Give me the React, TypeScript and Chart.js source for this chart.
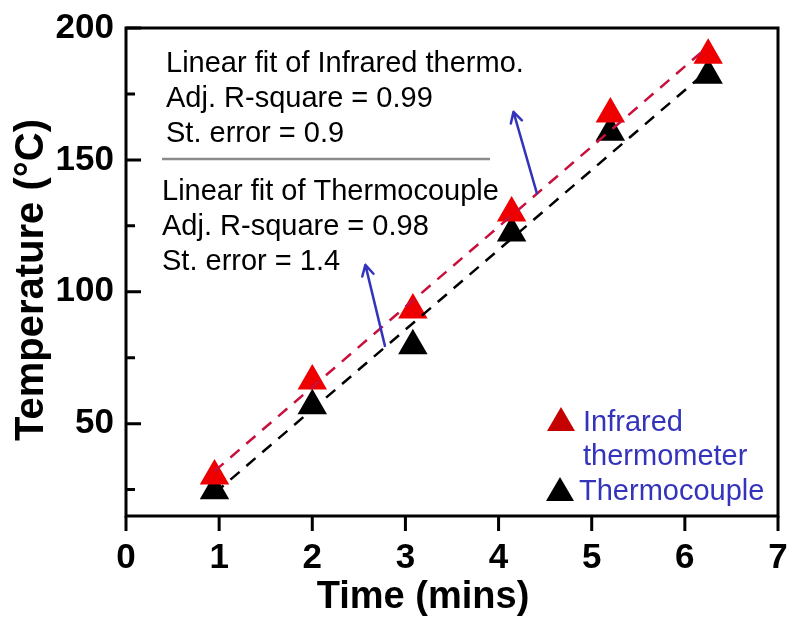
import React, { useEffect, useRef } from 'react';
import { Chart, registerables } from 'chart.js';

Chart.register(...registerables);

// ---- data ----
const timeMins = [0.95, 2.0, 3.08, 4.14, 5.2, 6.25];
const infraredTemp = [30.2, 66.2, 93.1, 129.9, 167.4, 189.7];
const thermocoupleTemp = [24.6, 56.8, 79.5, 122.3, 160.5, 182.1];
const fitX = [0.95, 6.25];
const infraredFit = [32, 193];
const thermocoupleFit = [23.6, 184];
const xTicks = [0, 1, 2, 3, 4, 5, 6, 7];
const yMajorTicks = [50, 100, 150, 200];
const yMinorTicks = [25, 75, 125, 175];
const infraredNote = ['Linear fit of Infrared thermo.', 'Adj. R-square = 0.99', 'St. error = 0.9'];
const thermoNote = ['Linear fit of Thermocouple', 'Adj. R-square = 0.98', 'St. error = 1.4'];
// arrows in data units: [fromX, fromY, toX, toY]
const arrowInfrared = [4.41, 137.5, 4.16, 168.2];
const arrowThermo = [2.78, 79.5, 2.57, 110.2];
const legendLabels = [['Infrared', 'thermometer'], ['Thermocouple']];

const FONT = '"Liberation Sans", Arial, Helvetica, sans-serif';
const RED_PT = '#ee0000';
const RED_LEGEND = '#c40000';
const RED_LINE = '#c8103c';
const BLUE = '#3333bb';

const decorPlugin = {
  id: 'decor',
  afterDraw(chart: any) {
    const ctx = chart.ctx;
    const { left, right, top, bottom } = chart.chartArea;
    const xs = chart.scales.x;
    const ys = chart.scales.y;
    ctx.save();
    // frame & axes
    ctx.strokeStyle = '#000';
    ctx.lineWidth = 3;
    ctx.lineCap = 'butt';
    ctx.beginPath();
    ctx.moveTo(left, top);
    ctx.lineTo(right, top);
    ctx.lineTo(right, bottom);
    ctx.lineTo(left, bottom);
    ctx.closePath();
    ctx.stroke();
    // x ticks (outward)
    ctx.beginPath();
    xTicks.forEach((v) => {
      const px = xs.getPixelForValue(v);
      ctx.moveTo(px, bottom);
      ctx.lineTo(px, bottom + 15);
    });
    ctx.stroke();
    // y ticks (inward)
    ctx.beginPath();
    yMajorTicks.forEach((v) => {
      const py = ys.getPixelForValue(v);
      ctx.moveTo(left, py);
      ctx.lineTo(left + 15, py);
    });
    yMinorTicks.forEach((v) => {
      const py = ys.getPixelForValue(v);
      ctx.moveTo(left, py);
      ctx.lineTo(left + 9, py);
    });
    ctx.stroke();

    // axis titles
    ctx.fillStyle = '#000';
    ctx.font = `bold 38px ${FONT}`;
    ctx.textAlign = 'center';
    ctx.textBaseline = 'alphabetic';
    ctx.fillText('Time (mins)', 423, 608);
    ctx.save();
    ctx.translate(43, 280);
    ctx.rotate(-Math.PI / 2);
    ctx.font = `bold 40px ${FONT}`;
    ctx.fillText('Temperature (\u00B0C)', 0, 0);
    ctx.restore();

    // annotations
    ctx.font = `29px ${FONT}`;
    ctx.textAlign = 'left';
    ctx.fillStyle = '#000';
    infraredNote.forEach((t, i) => ctx.fillText(t, left + 40, top + 44 + i * 35));
    thermoNote.forEach((t, i) => ctx.fillText(t, left + 36, top + 172 + i * 35));
    ctx.strokeStyle = '#8c8c8c';
    ctx.lineWidth = 2.5;
    ctx.beginPath();
    ctx.moveTo(left + 36, top + 131);
    ctx.lineTo(left + 364, top + 131);
    ctx.stroke();

    // arrows
    const drawArrow = (a: number[]) => {
      const x1 = xs.getPixelForValue(a[0]);
      const y1 = ys.getPixelForValue(a[1]);
      const x2 = xs.getPixelForValue(a[2]);
      const y2 = ys.getPixelForValue(a[3]);
      const ang = Math.atan2(y2 - y1, x2 - x1);
      ctx.strokeStyle = BLUE;
      ctx.lineWidth = 2.5;
      ctx.lineCap = 'round';
      ctx.lineJoin = 'round';
      ctx.beginPath();
      ctx.moveTo(x1, y1);
      ctx.lineTo(x2, y2);
      ctx.moveTo(x2 - 12 * Math.cos(ang - 0.5), y2 - 12 * Math.sin(ang - 0.5));
      ctx.lineTo(x2, y2);
      ctx.lineTo(x2 - 12 * Math.cos(ang + 0.5), y2 - 12 * Math.sin(ang + 0.5));
      ctx.stroke();
    };
    drawArrow(arrowInfrared);
    drawArrow(arrowThermo);

    // legend
    const tri = (cx: number, cy: number, color: string) => {
      ctx.fillStyle = color;
      ctx.beginPath();
      ctx.moveTo(cx, cy - 12);
      ctx.lineTo(cx + 14, cy + 12);
      ctx.lineTo(cx - 14, cy + 12);
      ctx.closePath();
      ctx.fill();
    };
    tri(561, 419, RED_LEGEND);
    tri(560, 489, '#000');
    ctx.fillStyle = BLUE;
    ctx.font = `29px ${FONT}`;
    ctx.fillText(legendLabels[0][0], 583, 431);
    ctx.fillText(legendLabels[0][1], 583, 465);
    ctx.fillText(legendLabels[1][0], 579, 500);
    ctx.restore();
  },
};

export default function App() {
  const ref = useRef<HTMLCanvasElement | null>(null);
  useEffect(() => {
    if (!ref.current) return;
    const chart = new Chart(ref.current, {
      type: 'scatter',
      data: {
        datasets: [
          {
            type: 'line',
            data: fitX.map((x, i) => ({ x, y: infraredFit[i] })),
            borderColor: RED_LINE,
            borderWidth: 2.5,
            borderDash: [12, 9],
            pointRadius: 0,
            showLine: true,
            fill: false,
          } as any,
          {
            type: 'line',
            data: fitX.map((x, i) => ({ x, y: thermocoupleFit[i] })),
            borderColor: '#000',
            borderWidth: 2.5,
            borderDash: [12, 9],
            pointRadius: 0,
            showLine: true,
            fill: false,
          } as any,
          {
            data: timeMins.map((x, i) => ({ x, y: infraredTemp[i] })),
            pointStyle: 'triangle',
            pointRadius: 13.5,
            backgroundColor: RED_PT,
            borderColor: RED_PT,
            borderWidth: 3.5,
          },
          {
            data: timeMins.map((x, i) => ({ x, y: thermocoupleTemp[i] })),
            pointStyle: 'triangle',
            pointRadius: 13.5,
            backgroundColor: '#000',
            borderColor: '#000',
            borderWidth: 3.5,
          },
        ],
      },
      options: {
        animation: false,
        responsive: true,
        maintainAspectRatio: false,
        layout: { padding: { top: 28, right: 10, left: 0, bottom: 0 } },
        plugins: { legend: { display: false }, tooltip: { enabled: false } },
        scales: {
          x: {
            type: 'linear',
            min: 0,
            max: 7,
            grid: { display: false },
            border: { display: false },
            afterBuildTicks: (s: any) => {
              s.ticks = xTicks.map((v) => ({ value: v }));
            },
            afterFit: (s: any) => {
              s.height = 104;
              s.paddingLeft = 0;
              s.paddingRight = 0;
            },
            ticks: {
              color: '#000',
              padding: 13,
              maxRotation: 0,
              font: { family: FONT, size: 35, weight: 'bold' },
            },
          },
          y: {
            type: 'linear',
            min: 15,
            max: 200,
            grid: { display: false },
            border: { display: false },
            afterBuildTicks: (s: any) => {
              s.ticks = yMajorTicks.map((v) => ({ value: v }));
            },
            afterFit: (s: any) => {
              s.width = 126;
              s.paddingTop = 0;
              s.paddingBottom = 0;
            },
            ticks: {
              color: '#000',
              padding: 4,
              font: { family: FONT, size: 35, weight: 'bold' },
            },
          },
        },
      },
      plugins: [decorPlugin],
    } as any);
    return () => chart.destroy();
  }, []);
  return (
    <div style={{ position: 'fixed', left: 0, top: 0, width: 795, height: 620, background: '#fff' }}>
      <canvas ref={ref} />
    </div>
  );
}
